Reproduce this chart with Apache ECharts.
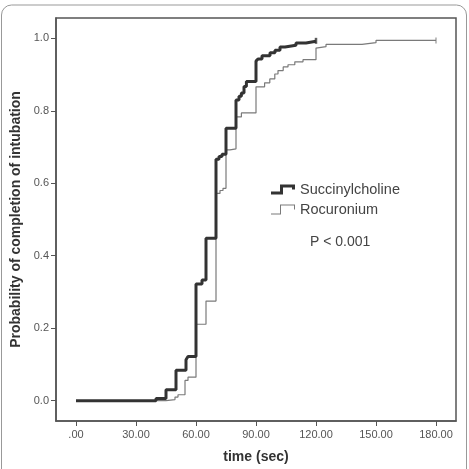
<!DOCTYPE html>
<html>
<head>
<meta charset="utf-8">
<script src="https://cdn.jsdelivr.net/npm/echarts@6/dist/echarts.min.js"></script>
<style>
  html, body { margin: 0; padding: 0; background: #fff; }
  #chart { width: 469px; height: 469px; }
</style>
</head>
<body>
<div id="chart"></div>
<script>
// time (sec) where the curve steps, and probability after the step
var succTime = [0, 40, 45, 50, 55, 56, 60, 63, 65, 70, 71.5, 73, 75, 80, 81.5, 82.7, 84, 85.2, 90, 91, 93, 97, 99.5, 102, 104.5, 110, 115, 120];
var succProb = [0, 0.006, 0.03, 0.084, 0.113, 0.122, 0.322, 0.333, 0.448, 0.666, 0.674, 0.68, 0.752, 0.83, 0.84, 0.849, 0.867, 0.881, 0.937, 0.943, 0.952, 0.96, 0.967, 0.976, 0.981, 0.987, 0.992, 0.993];

var rocTime = [0, 45, 49.5, 51, 54.5, 56, 60, 65, 70, 72, 73.5, 75, 77, 80, 82.7, 90, 94.3, 96.9, 99.4, 101, 103.6, 106, 109.4, 113.5, 120, 121, 125, 143, 150, 180];
var rocProb = [0, 0.003, 0.01, 0.0165, 0.056, 0.065, 0.211, 0.275, 0.572, 0.58, 0.586, 0.692, 0.695, 0.783, 0.794, 0.866, 0.877, 0.888, 0.9015, 0.911, 0.921, 0.927, 0.935, 0.941, 0.973, 0.977, 0.983, 0.988, 0.994, 0.994];

// censored (last) observations
var succCensor = [[120, 0.993]];
var rocCensor = [[180, 0.994]];

var xTicks = [0, 30, 60, 90, 120, 150, 180];
var xTickLabels = ['.00', '30.00', '60.00', '90.00', '120.00', '150.00', '180.00'];
var yTicks = [0, 0.2, 0.4, 0.6, 0.8, 1.0];
var yTickLabels = ['0.0', '0.2', '0.4', '0.6', '0.8', '1.0'];

function pairs(xs, ys) {
  return xs.map(function (x, i) { return [x, ys[i]]; });
}

var thickIcon = 'path://M0,7 L9,7 L9,0 L24,0 L24,5 L21,5 L21,3 L12,3 L12,10 L0,10 Z';
var thinIcon = 'path://M0,9 L9,9 L9,0 L24,0 L24,5 L23,5 L23,1 L10,1 L10,10 L0,10 Z';

var myChart = echarts.init(document.getElementById('chart'));

var option = {
  animation: false,
  backgroundColor: '#fff',
  textStyle: { fontFamily: 'Liberation Sans, Arial, sans-serif' },
  title: {
    text: 'P < 0.001',
    left: 305,
    top: 230,
    textStyle: { fontSize: 14, fontWeight: 'normal', color: '#444' }
  },
  legend: {
    orient: 'vertical',
    left: 266,
    top: 177,
    itemWidth: 24,
    itemHeight: 10,
    itemGap: 5,
    textStyle: { fontSize: 14.5, color: '#444' },
    itemStyle: { borderWidth: 0 },
    data: [
      { name: 'Succinylcholine', icon: thickIcon },
      { name: 'Rocuronium', icon: thinIcon }
    ]
  },
  grid: {
    left: 56,
    right: 13,
    top: 18,
    bottom: 48,
    show: true,
    borderColor: '#555',
    borderWidth: 1.5
  },
  xAxis: {
    type: 'value',
    min: -10,
    max: 190,
    name: 'time (sec)',
    nameLocation: 'middle',
    nameGap: 29,
    nameTextStyle: { fontSize: 14, fontWeight: 'bold', color: '#333' },
    splitLine: { show: false },
    axisLine: { show: true, onZero: false, lineStyle: { color: '#555', width: 1.5 } },
    axisTick: { show: true, length: 5, customValues: xTicks, lineStyle: { color: '#555' } },
    axisLabel: {
      customValues: xTicks,
      margin: 8,
      fontSize: 11,
      color: '#555',
      formatter: function (v) { return xTickLabels[xTicks.indexOf(v)]; }
    }
  },
  yAxis: {
    type: 'value',
    min: -0.056,
    max: 1.056,
    name: 'Probability of completion of intubation',
    nameLocation: 'middle',
    nameGap: 30,
    nameTextStyle: { fontSize: 14, fontWeight: 'bold', color: '#333' },
    splitLine: { show: false },
    axisLine: { show: true, onZero: false, lineStyle: { color: '#555', width: 1.5 } },
    axisTick: { show: true, length: 5, customValues: yTicks, lineStyle: { color: '#555' } },
    axisLabel: {
      customValues: yTicks,
      margin: 7,
      fontSize: 11,
      color: '#555',
      formatter: function (v) {
        var i = yTicks.findIndex(function (t) { return Math.abs(t - v) < 1e-6; });
        return i >= 0 ? yTickLabels[i] : '';
      }
    }
  },
  graphic: [{
    type: 'rect',
    silent: true,
    shape: { x: 1.5, y: 5, width: 465, height: 475, r: 10 },
    style: { fill: 'none', stroke: '#999', lineWidth: 1 }
  }],
  series: [
    {
      name: 'Rocuronium',
      type: 'line',
      step: 'end',
      showSymbol: false,
      color: '#7a7a7a',
      lineStyle: { width: 1.2, color: '#7a7a7a' },
      data: pairs(rocTime, rocProb)
    },
    {
      name: 'Succinylcholine',
      type: 'line',
      step: 'end',
      showSymbol: false,
      color: '#333',
      lineStyle: { width: 3, color: '#333' },
      data: pairs(succTime, succProb)
    },
    {
      name: 'rocCensor',
      type: 'scatter',
      symbol: 'rect',
      symbolSize: [1.2, 6],
      itemStyle: { color: '#7a7a7a' },
      data: rocCensor
    },
    {
      name: 'succCensor',
      type: 'scatter',
      symbol: 'rect',
      symbolSize: [2.5, 6],
      itemStyle: { color: '#333' },
      data: succCensor
    }
  ]
};

myChart.setOption(option);
</script>
</body>
</html>
